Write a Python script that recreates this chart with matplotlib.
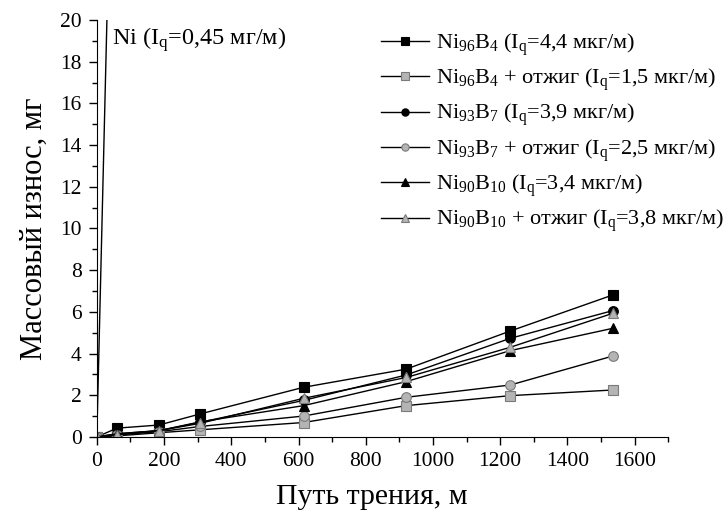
import matplotlib
matplotlib.use('Agg')
import matplotlib.pyplot as plt
from matplotlib.ticker import MultipleLocator

plt.rcParams['font.family'] = ['Liberation Serif', 'DejaVu Serif']
plt.rcParams['mathtext.default'] = 'regular'

# путь трения, м
path = [0, 60, 185, 307, 615, 920, 1230, 1535]

ni_path = [0, 60]
ni_wear = [0, 40]

ni96b4 = [0, 0.42, 0.57, 1.10, 2.38, 3.25, 5.08, 6.81]
ni96b4_ann = [0, 0.05, 0.20, 0.34, 0.69, 1.50, 1.98, 2.25]
ni93b7 = [0, 0.15, 0.30, 0.70, 1.75, 2.97, 4.73, 6.06]
ni93b7_ann = [0, 0.10, 0.25, 0.50, 1.00, 1.90, 2.49, 3.88]
ni90b10 = [0, 0.15, 0.30, 0.72, 1.50, 2.65, 4.14, 5.21]
ni90b10_ann = [0, 0.10, 0.30, 0.65, 1.85, 2.85, 4.30, 5.93]

labels = [
    'Ni$_{96}$B$_4$ (I$_q$=4,4 мкг/м)',
    'Ni$_{96}$B$_4$ + отжиг (I$_q$=1,5 мкг/м)',
    'Ni$_{93}$B$_7$ (I$_q$=3,9 мкг/м)',
    'Ni$_{93}$B$_7$ + отжиг (I$_q$=2,5 мкг/м)',
    'Ni$_{90}$B$_{10}$ (I$_q$=3,4 мкг/м)',
    'Ni$_{90}$B$_{10}$ + отжиг (I$_q$=3,8 мкг/м)',
]
ni_label = 'Ni (I$_q$=0,45 мг/м)'

fig = plt.figure(figsize=(7.28, 5.14), dpi=100)
ax = fig.add_axes([0.133, 0.150, 0.785, 0.811])

gray = '#b4b4b4'
edge = '#7a7a7a'
series = [
    (ni96b4, 's', 'black', 'black'),
    (ni96b4_ann, 's', gray, edge),
    (ni93b7, 'o', 'black', 'black'),
    (ni93b7_ann, 'o', gray, edge),
    (ni90b10, '^', 'black', 'black'),
    (ni90b10_ann, '^', gray, edge),
]

ax.plot(ni_path, ni_wear, color='black', lw=1)
for (vals, m, fc, ec), lab in zip(series, labels):
    ax.plot(path, vals, color='black', lw=1, marker=m, markersize=7,
            markerfacecolor=fc, markeredgecolor=ec, markeredgewidth=0.8,
            label=lab)

ax.text(45, 19.05, ni_label, fontsize=17.5, va='center')

ax.set_xlim(0, 1700)
ax.set_ylim(0, 20)
ax.xaxis.set_major_locator(MultipleLocator(200))
ax.xaxis.set_minor_locator(MultipleLocator(100))
ax.yaxis.set_major_locator(MultipleLocator(2))
ax.yaxis.set_minor_locator(MultipleLocator(1))
ax.set_xticks(range(0, 1601, 200))
ax.tick_params(which='major', direction='out', length=6, width=1,
               labelsize=15.5, pad=5)
ax.tick_params(which='minor', direction='out', length=3.5, width=1)
ax.spines['top'].set_visible(False)
ax.spines['right'].set_visible(False)

ax.set_xlabel('Путь трения, м', fontsize=21.5)
ax.xaxis.set_label_coords(0.482, -0.112)
ax.set_ylabel('Массовый износ, мг', fontsize=22, labelpad=8)

ax.legend(loc='upper left', bbox_to_anchor=(0.481, 0.995), frameon=False,
          fontsize=16, handlelength=2.2, handletextpad=0.3,
          labelspacing=0.4, borderaxespad=0, markerscale=0.75)

fig.savefig('out.png', dpi=100)
